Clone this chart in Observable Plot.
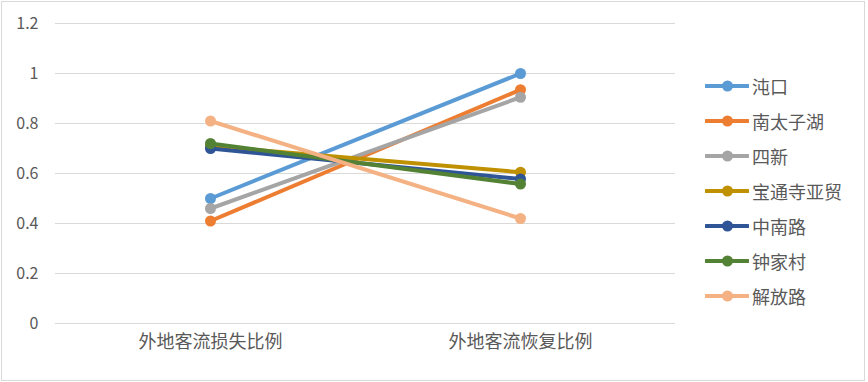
<!DOCTYPE html>
<html>
<head>
<meta charset="utf-8">
<script src="https://cdn.jsdelivr.net/npm/d3@7"></script>
<script src="https://cdn.jsdelivr.net/npm/@observablehq/plot@0.6"></script>
<style>
  html, body { margin: 0; padding: 0; background: #fff; }
  #wrap { position: relative; width: 868px; height: 382px; overflow: hidden; font-family: "Noto Sans CJK SC", "Noto Sans", sans-serif; }
  #chart { position: absolute; left: 0; top: 0; }
  #frame { position: absolute; left: 1px; top: 1px; width: 864px; height: 380px; box-sizing: border-box; border: 1px solid #d9d9d9; pointer-events: none; }
  #legend { position: absolute; left: 705px; top: 68px; }
  .item { display: flex; align-items: center; height: 35.1px; font-size: 18px; color: #595959; white-space: nowrap; }
  .item svg { margin-right: 3px; }
</style>
</head>
<body>
<div id="wrap">
  <div id="chart"></div>
  <div id="legend"></div>
  <div id="frame"></div>
</div>
<script>
const categories = ["外地客流损失比例", "外地客流恢复比例"];
const seriesNames = ["沌口", "南太子湖", "四新", "宝通寺亚贸", "中南路", "钟家村", "解放路"];
const lossValues = [0.50, 0.41, 0.46, 0.71, 0.70, 0.72, 0.81];
const recoveryValues = [1.00, 0.935, 0.905, 0.605, 0.578, 0.558, 0.42];
const seriesColors = ["#5B9BD5", "#ED7D31", "#A5A5A5", "#BF9000", "#2F5597", "#548235", "#F4B183"];
const yTicks = [0, 0.2, 0.4, 0.6, 0.8, 1, 1.2];

const data = [];
seriesNames.forEach((s, i) => {
  data.push({series: s, category: categories[0], value: lossValues[i], order: i});
  data.push({series: s, category: categories[1], value: recoveryValues[i], order: i});
});

const marks = [
  Plot.gridY(yTicks, {stroke: "#d9d9d9", strokeOpacity: 1, strokeWidth: 1})
];
seriesNames.forEach((s, i) => {
  const d = data.filter(r => r.series === s);
  marks.push(Plot.line(d, {x: "category", y: "value", stroke: seriesColors[i], strokeWidth: 4, strokeLinecap: "round"}));
  marks.push(Plot.dot(d, {x: "category", y: "value", fill: seriesColors[i], r: 5.5}));
});

const chart = Plot.plot({
  width: 868,
  height: 382,
  marginLeft: 55,
  marginRight: 193,
  marginTop: 23,
  marginBottom: 59,
  style: {fontFamily: "'Noto Sans CJK SC', 'Noto Sans', sans-serif", background: "transparent", color: "#595959"},
  x: {type: "point", domain: categories, padding: 0.5, label: null},
  y: {domain: [0, 1.2], label: null},
  marks: [
    ...marks,
    Plot.axisY(yTicks, {tickSize: 0, tickPadding: 17, fontSize: 16, fill: "#595959", tickFormat: d => String(+d.toFixed(1)), label: null}),
    Plot.axisX({tickSize: 0, tickPadding: 12, fontSize: 18, fill: "#595959", label: null})
  ]
});
document.getElementById("chart").appendChild(chart);

const legend = document.getElementById("legend");
seriesNames.forEach((s, i) => {
  const item = document.createElement("div");
  item.className = "item";
  item.innerHTML = `<svg width="44" height="12"><line x1="1" y1="6" x2="43" y2="6" stroke="${seriesColors[i]}" stroke-width="4" stroke-linecap="round"/><circle cx="22.5" cy="6" r="5.5" fill="${seriesColors[i]}"/></svg><span></span>`;
  item.querySelector("span").textContent = s;
  legend.appendChild(item);
});
</script>
</body>
</html>
